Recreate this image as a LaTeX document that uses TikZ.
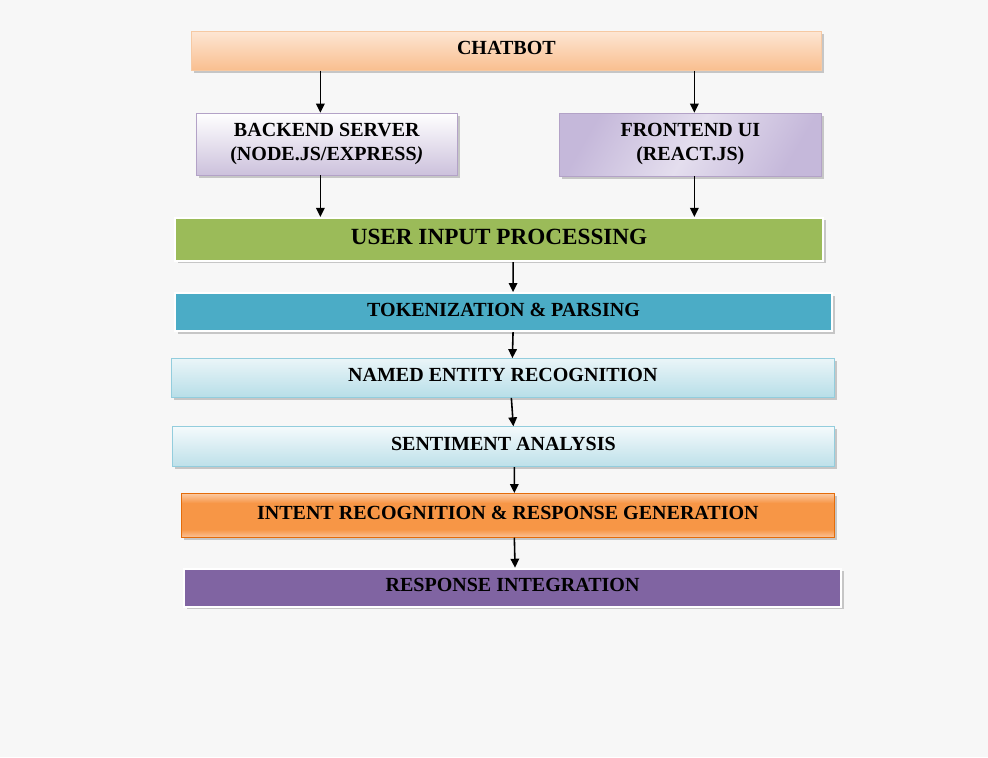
\documentclass[tikz,border=0pt]{standalone}
\usepackage{fontspec}
\setmainfont{Liberation Serif}
\usepackage{tikz}
\usetikzlibrary{positioning, shadows, arrows.meta}
\usepackage{xcolor}

\definecolor{pagebg}{HTML}{F7F7F7}
\definecolor{peachtop}{HTML}{FDE6D3}
\definecolor{peachbot}{HTML}{F9BF8F}
\definecolor{peachline}{HTML}{F6C9A3}
\definecolor{lavtop}{HTML}{FFFFFF}
\definecolor{lavbot}{HTML}{CCC1DC}
\definecolor{lavmid}{HTML}{E4DEEE}
\definecolor{lavdark}{HTML}{C5B8DA}
\definecolor{lavline}{HTML}{B3A2C7}
\definecolor{olive}{HTML}{9BBB59}
\definecolor{aqua}{HTML}{4BACC6}
\definecolor{icetop}{HTML}{EAF5F8}
\definecolor{icebot}{HTML}{B7DEE8}
\definecolor{frosttop}{HTML}{F4FAFC}
\definecolor{frostbot}{HTML}{BDE0E9}
\definecolor{iceline}{HTML}{93CDDD}
\definecolor{ambertop}{HTML}{FCCAA2}
\definecolor{ambermid}{HTML}{F79646}
\definecolor{amberbot}{HTML}{FBC39A}
\definecolor{amberline}{HTML}{E46C0A}
\definecolor{plum}{HTML}{8064A2}

\pgfdeclareverticalshading{amberband}{100bp}{color(0bp)=(amberbot); color(25bp)=(amberbot);
    color(34bp)=(ambermid); color(64bp)=(ambermid); color(75bp)=(ambertop); color(100bp)=(ambertop)}

\tikzset{
    block/.style={rectangle, inner sep=0pt, text=black,
        font=\fontsize{11.4}{13.6}\selectfont\bfseries,
        align=center, text depth=0.3em,
        drop shadow={shadow xshift=0.05cm, shadow yshift=-0.05cm,
            fill=gray!45, opacity=1}},
    >={Triangle[length=0.18cm,width=0.17cm]}
}

\begin{document}
\begin{tikzpicture}
    % page
    \fill[pagebg] (0,0) rectangle (19.76,-15.14);
    \useasboundingbox (0,0) rectangle (19.76,-15.14);

    % Add the blocks
        \node[block,
              anchor=north west,
              minimum width=12.6cm, minimum height=0.78cm,
              top color=peachtop, bottom color=peachbot,
              draw=peachline
              ] (chatbot) at (3.82,-0.62) {CHATBOT};
        \node[block,
              below right=0.84cm and 0.1cm of chatbot.south west,
              minimum width=5.22cm, minimum height=1.24cm,
              top color=lavtop, bottom color=lavbot,
              draw=lavline
              ] (backend) {BACKEND SERVER\\(NODE.JS/EXPRESS\textit{)}};
        \node[block,
              below left=0.84cm and 0cm of chatbot.south east,
              minimum width=5.24cm, minimum height=1.26cm,
              left color=lavdark, right color=lavdark, middle color=lavmid,
              shading angle=60,
              draw=lavline
              ] (frontend) {FRONTEND UI\\(REACT.JS)};
        \node[block,
              below right=0.83cm and -0.44cm of backend.south west,
              minimum width=12.96cm, minimum height=0.86cm,
              fill=olive, draw=white, line width=1.2pt,
              font=\fontsize{13.2}{15}\selectfont\bfseries
              ] (userinput) {USER INPUT PROCESSING};
        \node[block,
              below right=0.6cm and 0cm of userinput.south west,
              minimum width=13.14cm, minimum height=0.76cm,
              fill=aqua, draw=white, line width=1.2pt
              ] (tokens) {TOKENIZATION \& PARSING};
        \node[block,
              below right=0.52cm and -0.06cm of tokens.south west,
              minimum width=13.26cm, minimum height=0.78cm,
              top color=icetop, bottom color=icebot,
              draw=iceline
              ] (entity) {NAMED ENTITY RECOGNITION};
        \node[block,
              below right=0.57cm and 0.02cm of entity.south west,
              minimum width=13.24cm, minimum height=0.8cm,
              top color=frosttop, bottom color=frostbot,
              draw=iceline
              ] (sentiment) {SENTIMENT ANALYSIS};
        \node[block,
              below right=0.52cm and 0.18cm of sentiment.south west,
              minimum width=13.06cm, minimum height=0.88cm,
              shading=amberband,
              draw=amberline
              ] (intent) {INTENT RECOGNITION \& RESPONSE GENERATION};
        \node[block,
              below right=0.6cm and 0.04cm of intent.south west,
              minimum width=13.14cm, minimum height=0.76cm,
              fill=plum, draw=white, line width=1.2pt
              ] (response) {RESPONSE INTEGRATION};

    % Add the arrows
       \draw[line width=0.9pt, black]
            ([xshift=-0.13cm]chatbot.south -| backend.north) edge[->] ([xshift=-0.13cm]backend.north)
            ([xshift=0.08cm]chatbot.south -| frontend.north) edge[->] ([xshift=0.08cm]frontend.north)
            ([xshift=-0.13cm]backend.south) edge[->] ([xshift=-0.13cm]userinput.north -| backend.south)
            ([xshift=0.08cm]frontend.south) edge[->] ([xshift=0.08cm]userinput.north -| frontend.south)
            ([xshift=0.28cm]userinput.south) edge[->] ([xshift=0.19cm]tokens.north)
            ([xshift=0.19cm]tokens.south) edge[->] ([xshift=0.19cm]entity.north)
            ([xshift=0.17cm]entity.south) edge[->] ([xshift=0.2cm]sentiment.north)
            ([xshift=0.22cm]sentiment.south) edge[->] ([xshift=0.13cm]intent.north)
            ([xshift=0.13cm]intent.south) edge[->] ([xshift=0.05cm]response.north)
            ;
\end{tikzpicture}
\end{document}
